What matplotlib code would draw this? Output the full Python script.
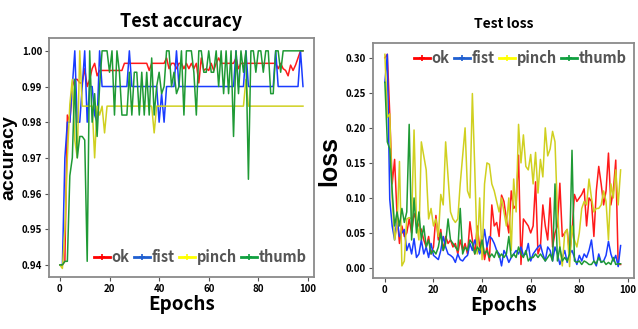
import numpy as np
import matplotlib.pyplot as plt

# ---- data ----
acc_epochs = np.arange(99)
acc_ok = [0.940, 0.940, 0.941, 0.982, 0.980, 0.990, 0.992, 0.992, 0.991, 0.991,
          0.995, 0.990, 0.992, 0.995, 0.9965, 0.993, 0.9945, 0.9945, 0.9945, 0.9945,
          0.9945, 0.9945, 0.9945, 0.9945, 0.9945, 0.9945, 0.9965, 0.9965, 0.9965, 0.9965,
          0.9965, 0.9965, 0.9965, 0.9965, 0.9965, 0.9965, 0.9945, 0.9965, 0.9965, 0.9965,
          0.9965, 0.9965, 0.9965, 0.998, 0.995, 0.9965, 0.9965, 0.995, 0.9965, 0.9965,
          0.995, 0.9965, 0.995, 0.9965, 0.995, 0.9965, 0.991, 0.998, 0.9945, 0.995,
          0.9945, 0.9965, 0.9945, 0.9965, 0.998, 0.9965, 0.9965, 0.9965, 0.9965, 0.9965,
          0.9965, 0.998, 0.995, 0.9965, 0.9965, 0.9965, 0.9965, 0.9965, 0.9965, 0.9965,
          0.9965, 0.9965, 0.9965, 0.9965, 0.9965, 0.9965, 0.9965, 0.9965, 0.995, 0.9965,
          0.995, 0.9945, 0.993, 0.996, 0.9945, 0.996, 0.998, 1.000, 1.000]
acc_fist = [0.940, 0.940, 0.970, 0.980, 0.980, 0.990, 1.000, 0.980, 0.980, 0.990,
            1.000, 0.980, 0.990, 0.990, 0.982, 0.980, 1.000, 0.990, 0.990, 0.990,
            0.990, 0.990, 0.990, 0.990, 0.990, 0.990, 0.990, 0.990, 1.000, 0.990,
            0.990, 0.990, 0.990, 0.990, 0.990, 0.990, 0.990, 0.990, 0.990, 0.990,
            0.980, 0.988, 0.980, 0.990, 0.990, 0.990, 0.990, 1.000, 0.990, 0.990,
            0.990, 0.990, 0.990, 0.990, 0.990, 0.990, 0.990, 0.990, 0.990, 0.990,
            0.990, 0.990, 0.990, 0.990, 0.990, 0.990, 0.990, 0.990, 0.990, 0.990,
            0.990, 1.000, 0.990, 0.990, 0.990, 1.000, 0.990, 0.990, 0.990, 0.990,
            0.990, 0.990, 0.990, 0.990, 0.990, 0.990, 0.990, 1.000, 0.990, 0.990,
            0.990, 0.990, 0.990, 0.990, 0.990, 0.990, 0.990, 1.000, 0.990]
acc_pinch = [0.940, 0.939, 0.950, 0.970, 0.985, 0.992, 0.975, 0.970, 1.000, 0.9845,
             0.9845, 0.9845, 0.9845, 0.9845, 0.970, 0.9845, 0.982, 0.9845, 0.977, 0.9845,
             0.9845, 0.9845, 0.9845, 0.9845, 0.9845, 0.9845, 0.9845, 0.9845, 0.9845, 0.9845,
             0.9845, 0.9845, 0.9845, 0.9845, 0.9845, 0.9845, 0.9845, 0.9845, 0.977, 0.9845,
             0.9845, 0.9845, 0.9845, 0.9845, 0.9845, 0.9845, 0.9845, 0.9845, 0.9845, 0.9845,
             0.9845, 0.9845, 0.9845, 0.9845, 0.9845, 0.9845, 0.9845, 0.9845, 0.9845, 0.9845,
             0.9845, 0.9845, 0.9845, 0.9845, 0.9845, 0.9845, 0.9845, 0.9845, 0.9845, 0.9845,
             0.9845, 0.9845, 0.9845, 0.9845, 0.9845, 0.992, 0.9845, 0.9845, 0.9845, 0.9845,
             0.9845, 0.9845, 0.9845, 0.9845, 0.9845, 0.9845, 0.9845, 0.9845, 0.9845, 0.9845,
             0.9845, 0.9845, 0.9845, 0.9845, 0.9845, 0.9845, 0.9845, 0.9845, 0.9845]
acc_thumb = [0.940, 0.940, 0.941, 0.941, 0.965, 0.970, 0.992, 0.970, 0.976, 0.976,
             0.975, 0.941, 1.000, 0.980, 0.988, 0.976, 0.990, 1.000, 1.000, 1.000,
             0.994, 1.000, 0.982, 1.000, 0.994, 0.982, 0.982, 0.982, 0.994, 0.982,
             0.994, 0.994, 0.982, 0.994, 0.982, 0.994, 0.982, 0.998, 0.982, 0.990,
             0.994, 0.988, 0.990, 1.000, 1.000, 0.990, 0.994, 0.988, 0.990, 1.000,
             0.982, 1.000, 1.000, 1.000, 0.994, 0.982, 1.000, 1.000, 0.994, 0.994,
             1.000, 0.994, 0.994, 1.000, 0.990, 1.000, 0.988, 1.000, 0.988, 1.000,
             0.976, 1.000, 0.988, 1.000, 0.994, 1.000, 0.964, 1.000, 1.000, 0.994,
             1.000, 1.000, 0.994, 1.000, 1.000, 0.988, 0.988, 1.000, 1.000, 0.994,
             1.000, 1.000, 1.000, 1.000, 1.000, 1.000, 1.000, 1.000, 1.000]

loss_epochs = np.arange(98)
loss_ok = [0.300, 0.305, 0.220, 0.120, 0.155, 0.075, 0.035, 0.060, 0.045, 0.050,
           0.070, 0.050, 0.078, 0.068, 0.060, 0.055, 0.040, 0.030, 0.045, 0.020,
           0.030, 0.075, 0.040, 0.055, 0.025, 0.045, 0.035, 0.040, 0.030, 0.035,
           0.020, 0.040, 0.025, 0.035, 0.020, 0.066, 0.040, 0.020, 0.060, 0.030,
           0.045, 0.012, 0.030, 0.010, 0.090, 0.060, 0.065, 0.045, 0.104, 0.095,
           0.070, 0.050, 0.110, 0.085, 0.090, 0.161, 0.005, 0.070, 0.065, 0.060,
           0.050, 0.060, 0.123, 0.020, 0.030, 0.090, 0.060, 0.040, 0.100, 0.030,
           0.050, 0.060, 0.121, 0.045, 0.050, 0.055, 0.020, 0.050, 0.105, 0.095,
           0.100, 0.105, 0.113, 0.060, 0.100, 0.095, 0.045, 0.110, 0.145, 0.120,
           0.090, 0.110, 0.164, 0.090, 0.110, 0.154, 0.005, 0.005]
loss_fist = [0.265, 0.305, 0.098, 0.060, 0.040, 0.070, 0.045, 0.050, 0.055, 0.025,
             0.035, 0.020, 0.042, 0.015, 0.020, 0.040, 0.020, 0.030, 0.015, 0.035,
             0.018, 0.015, 0.012, 0.025, 0.045, 0.030, 0.020, 0.018, 0.015, 0.008,
             0.020, 0.012, 0.010, 0.015, 0.018, 0.035, 0.025, 0.040, 0.030, 0.020,
             0.030, 0.055, 0.030, 0.045, 0.042, 0.035, 0.025, 0.020, 0.003, 0.025,
             0.018, 0.008, 0.015, 0.020, 0.025, 0.020, 0.030, 0.018, 0.020, 0.035,
             0.010, 0.020, 0.025, 0.030, 0.033, 0.020, 0.010, 0.030, 0.025, 0.010,
             0.030, 0.020, 0.005, 0.015, 0.025, 0.008, 0.020, 0.025, 0.015, 0.005,
             0.018, 0.010, 0.020, 0.015, 0.025, 0.040, 0.010, 0.003, 0.020, 0.008,
             0.010, 0.018, 0.038, 0.020, 0.010, 0.018, 0.002, 0.032]
loss_pinch = [0.305, 0.215, 0.220, 0.100, 0.040, 0.060, 0.152, 0.003, 0.010, 0.070,
              0.072, 0.070, 0.197, 0.065, 0.040, 0.180, 0.160, 0.140, 0.070, 0.085,
              0.060, 0.070, 0.045, 0.105, 0.090, 0.180, 0.130, 0.080, 0.070, 0.065,
              0.070, 0.120, 0.160, 0.200, 0.110, 0.100, 0.249, 0.140, 0.020, 0.100,
              0.012, 0.120, 0.150, 0.148, 0.120, 0.110, 0.095, 0.080, 0.100, 0.080,
              0.060, 0.100, 0.025, 0.127, 0.080, 0.205, 0.150, 0.190, 0.145, 0.140,
              0.162, 0.120, 0.165, 0.107, 0.155, 0.130, 0.200, 0.160, 0.170, 0.195,
              0.180, 0.080, 0.030, 0.003, 0.050, 0.055, 0.002, 0.060, 0.040, 0.030,
              0.050, 0.085, 0.095, 0.090, 0.127, 0.100, 0.080, 0.085, 0.085, 0.090,
              0.110, 0.095, 0.040, 0.120, 0.100, 0.140, 0.090, 0.140]
loss_thumb = [0.265, 0.180, 0.170, 0.110, 0.060, 0.080, 0.060, 0.085, 0.065, 0.080,
              0.205, 0.040, 0.100, 0.050, 0.080, 0.040, 0.060, 0.030, 0.040, 0.020,
              0.025, 0.020, 0.030, 0.050, 0.025, 0.035, 0.070, 0.040, 0.035, 0.030,
              0.025, 0.085, 0.020, 0.030, 0.025, 0.040, 0.035, 0.020, 0.030, 0.025,
              0.040, 0.020, 0.025, 0.015, 0.020, 0.015, 0.025, 0.015, 0.020, 0.015,
              0.020, 0.045, 0.015, 0.020, 0.015, 0.030, 0.020, 0.015, 0.025, 0.010,
              0.015, 0.015, 0.020, 0.015, 0.020, 0.015, 0.010, 0.015, 0.020, 0.010,
              0.120, 0.010, 0.030, 0.010, 0.015, 0.010, 0.020, 0.168, 0.010, 0.008,
              0.010, 0.005, 0.010, 0.008, 0.005, 0.005, 0.010, 0.006, 0.015, 0.008,
              0.010, 0.005, 0.008, 0.005, 0.015, 0.005, 0.006, 0.006]

names = ['ok', 'fist', 'pinch', 'thumb']
colors = ['#ff1a1a', '#1a3cff', '#d0d020', '#1f9a35']
legend_colors = ['#ff0000', '#1f5fd0', '#ffff00', '#10a040']

plt.rcParams['font.family'] = ['Noto Sans CJK KR', 'DejaVu Sans']

fig = plt.figure(figsize=(6.38, 3.29), dpi=100)
ax1 = fig.add_axes([0.0768, 0.158, 0.4152, 0.7265])
ax2 = fig.add_axes([0.5846, 0.155, 0.4091, 0.714])


def style(ax):
    for s in ax.spines.values():
        s.set_color('#8a8a8a')
        s.set_linewidth(1.3)
    ax.tick_params(length=3, width=0.8, color='#555555', labelsize=7, pad=2)
    for lab in ax.get_xticklabels() + ax.get_yticklabels():
        lab.set_fontweight('bold')
    ax.set_xlabel('Epochs', fontsize=13.5, fontweight='bold', labelpad=1)


def legend(ax, loc, anchor, fs):
    handles = [plt.Line2D([], [], color=c, lw=2, marker='+', ms=4, mew=1.2)
               for c in legend_colors]
    leg = ax.legend(handles, names, loc=loc, bbox_to_anchor=anchor, ncol=4,
                    frameon=False, handlelength=1.1, handletextpad=0.1,
                    columnspacing=0.3, borderaxespad=0.1,
                    prop={'size': fs, 'weight': 'bold'})
    for t in leg.get_texts():
        t.set_color('#555555')


for series, c in zip([acc_ok, acc_fist, acc_pinch, acc_thumb], colors):
    ax1.plot(acc_epochs, series, color=c, lw=1.1)
ax1.set_xlim(-4.4, 102.4)
ax1.set_ylim(0.9366, 1.0036)
ax1.set_xticks([0, 20, 40, 60, 80, 100])
ax1.set_yticks([0.94, 0.95, 0.96, 0.97, 0.98, 0.99, 1.00])
ax1.yaxis.set_major_formatter(plt.FormatStrFormatter('%.2f'))
style(ax1)
ax1.set_ylabel('accuracy', fontsize=14, fontweight='bold', family='Liberation Sans', labelpad=3)
ax1.set_title('Test accuracy', fontsize=13, fontweight='bold', pad=8)
legend(ax1, 'lower right', (1.0, 0.02), 10.5)

for series, c in zip([loss_ok, loss_fist, loss_pinch, loss_thumb], colors):
    ax2.plot(loss_epochs, series, color=c, lw=1.1)
ax2.set_xlim(-4.9, 102.5)
ax2.set_ylim(-0.0143, 0.321)
ax2.set_xticks([0, 20, 40, 60, 80, 100])
ax2.set_yticks([0.0, 0.05, 0.10, 0.15, 0.20, 0.25, 0.30])
ax2.yaxis.set_major_formatter(plt.FormatStrFormatter('%.2f'))
style(ax2)
ax2.set_ylabel('loss', fontsize=18, fontweight='bold', family='Liberation Sans', labelpad=3)
ax2.set_title('Test loss', fontsize=10, fontweight='bold', pad=11)
legend(ax2, 'upper right', (1.0, 1.0), 10.5)

fig.savefig('out.png', dpi=100)
